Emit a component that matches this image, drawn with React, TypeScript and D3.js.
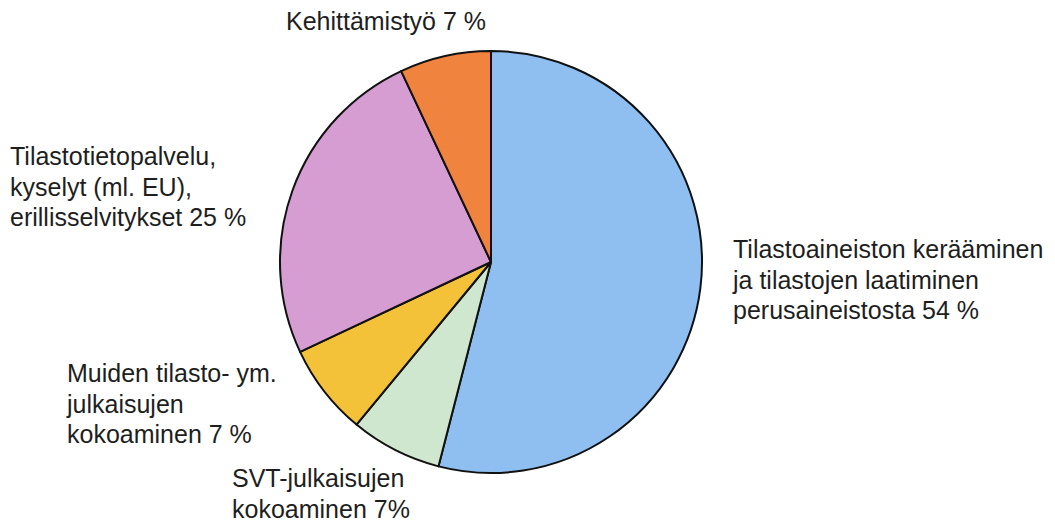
import React from "react";
import * as d3 from "d3";

const categories = [
  "Tilastoaineiston kerääminen ja tilastojen laatiminen perusaineistosta",
  "SVT-julkaisujen kokoaminen",
  "Muiden tilasto- ym. julkaisujen kokoaminen",
  "Tilastotietopalvelu, kyselyt (ml. EU), erillisselvitykset",
  "Kehittämistyö",
];
const values = [54, 7, 7, 25, 7];
const labelLines = [
  ["Tilastoaineiston kerääminen", "ja tilastojen laatiminen", "perusaineistosta 54 %"],
  ["SVT-julkaisujen", "kokoaminen 7%"],
  ["Muiden tilasto- ym.", "julkaisujen", "kokoaminen 7 %"],
  ["Tilastotietopalvelu,", "kyselyt (ml. EU),", "erillisselvitykset 25 %"],
  ["Kehittämistyö 7 %"],
];
const colors = ["#8ebff0", "#cfe6cf", "#f4c238", "#d59dd1", "#f0843f"];

// label layout (x, first baseline, anchor)
const labelLayout: [number, number, string][] = [
  [733, 258, "start"],
  [232, 487, "start"],
  [67, 382, "start"],
  [10, 165, "start"],
  [386, 30, "middle"],
];

const W = 1055;
const H = 522;
const cx = 491;
const cy = 262;
const R = 211;
const lineH = 30.5;

export default function App() {
  const pie = d3
    .pie<number>()
    .sort(null)
    .value((d) => d)
    .startAngle(0)
    .endAngle(2 * Math.PI);
  const arcs = pie(values);
  const arc = d3.arc<d3.PieArcDatum<number>>().innerRadius(0).outerRadius(R);

  return (
    <svg
      width={W}
      height={H}
      style={{ position: "absolute", left: 0, top: 0, background: "#fff" }}
      fontFamily="'Liberation Sans', Arial, sans-serif"
    >
      <rect width={W} height={H} fill="#fff" />
      <g transform={`translate(${cx},${cy})`}>
        {arcs.map((a, i) => (
          <path
            key={categories[i]}
            d={arc(a) || ""}
            fill={colors[i]}
            stroke="#111"
            strokeWidth={2}
            strokeLinejoin="round"
          />
        ))}
      </g>
      {labelLines.map((lines, i) => (
        <text
          key={i}
          x={labelLayout[i][0]}
          y={labelLayout[i][1]}
          textAnchor={labelLayout[i][2] as any}
          fontSize={25}
          fill="#1e1e1e"
        >
          {lines.map((l, j) => (
            <tspan key={j} x={labelLayout[i][0]} dy={j === 0 ? 0 : lineH}>
              {l}
            </tspan>
          ))}
        </text>
      ))}
    </svg>
  );
}
